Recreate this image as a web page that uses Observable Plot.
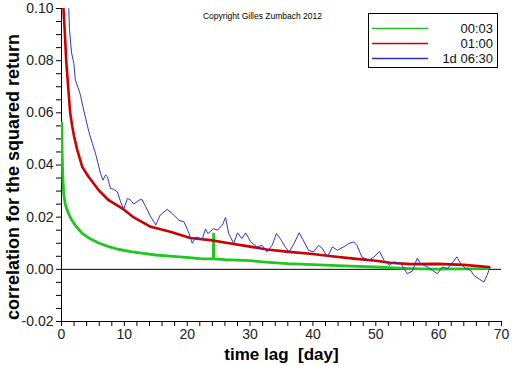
<!DOCTYPE html>
<html><head><meta charset="utf-8">
<script src="https://cdn.jsdelivr.net/npm/d3@7"></script>
<script src="https://cdn.jsdelivr.net/npm/@observablehq/plot@0.6"></script>
<style>
body{margin:0;background:#fff;}
#wrap{position:relative;width:512px;height:366px;font-family:"Liberation Sans",Arial,sans-serif;}
</style></head>
<body><div id="wrap"></div>
<script>
const seriesNames = ["00:03", "01:00", "1d 06:30"];
const seriesColors = ["#1ec81e", "#cc0000", "#3333cc"];
const legendColors = ["#20c020", "#cc0000", "#3030b8"];
const xTitle = "time lag  [day]";
const yTitle = "correlation for the squared return";
const copyright = "Copyright Gilles Zumbach 2012";

const greenX = [0.05,0.1,0.2,0.35,0.6,1.0,1.6,2.3,3.3,4.5,6,7.5,9,11,13,15,17.3,20.3,22.4,24.15,24.2,24.25,26,28,30,33,36,40,43,46,50,54.4,57,59.8,64,68];
const greenY = [0.056,0.045,0.036,0.029,0.025,0.022,0.019,0.0165,0.0138,0.0118,0.0100,0.0087,0.0077,0.0068,0.0061,0.0055,0.0051,0.0045,0.0040,0.0040,0.0135,0.0040,0.0037,0.0035,0.0033,0.0027,0.0022,0.0018,0.0015,0.0012,0.0009,0.0004,0.0002,0.0001,0.0002,0.0003];

const redX = [0.2,0.53,0.75,1.06,1.38,1.7,2.0,2.5,3.3,4.3,5.9,7.5,9.7,11.5,14.2,17.3,20.5,23.7,26.9,30,32.7,36.2,39.6,43,46.5,50,52.3,55.5,59.8,64,68];
const redY = [0.105,0.0907,0.080,0.070,0.060,0.055,0.051,0.0458,0.0393,0.0355,0.0304,0.0265,0.0233,0.0199,0.0163,0.0144,0.0120,0.0112,0.0099,0.0087,0.0076,0.0067,0.0060,0.0050,0.0041,0.0033,0.0025,0.0020,0.0021,0.0017,0.0009];

const blueX = [1.0,1.16,1.27,1.6,1.96,2.2,2.65,3.0,3.4,3.9,4.35,4.9,5.4,5.8,6.2,6.6,7.0,7.3,7.5,7.8,8.3,8.9,9.4,9.9,10.5,11.0,11.5,12.3,12.8,13.4,14.2,15.0,15.7,16.8,17.6,18.7,19.5,20.3,20.8,21.4,22.4,22.9,23.3,24.2,24.8,25.6,26.1,26.6,27.4,28.0,28.7,29.3,30.1,31.1,31.9,32.7,33.5,34.2,34.8,35.6,36.2,37.0,37.8,38.6,39.3,40.1,40.9,41.5,42.3,43.1,43.9,44.9,45.7,46.5,47.0,47.8,48.9,49.7,50.6,51.3,52.1,52.9,53.9,54.5,55.0,55.8,56.6,57.1,58.2,59.0,59.8,60.6,61.4,62.1,62.9,63.5,64.3,65.1,65.6,66.4,67.2,67.7,68.2];
const blueY = [0.108,0.100,0.092,0.083,0.079,0.0727,0.0695,0.067,0.0624,0.0573,0.0528,0.0483,0.0445,0.0407,0.0368,0.0342,0.0362,0.0355,0.0336,0.031,0.0307,0.0297,0.0259,0.0231,0.0272,0.0265,0.0250,0.0265,0.0268,0.024,0.0201,0.0170,0.0208,0.0230,0.0214,0.0188,0.0182,0.0137,0.0100,0.0124,0.0116,0.0155,0.0137,0.0156,0.0150,0.0170,0.0199,0.0137,0.0099,0.0140,0.0118,0.0140,0.0105,0.0086,0.0092,0.0067,0.0092,0.0137,0.0118,0.0086,0.0067,0.0099,0.0140,0.0105,0.0073,0.0067,0.0092,0.0080,0.0047,0.0086,0.0073,0.0086,0.0099,0.0105,0.0092,0.0047,0.0035,0.0047,0.0069,0.0035,0.0015,0.0028,0.0024,0.0003,-0.0017,-0.0007,0.0043,0.0022,0.0009,-0.0004,-0.0017,0.0009,0.0003,0.0022,0.0048,0.0022,0.0003,-0.0004,-0.0023,-0.0036,-0.0049,-0.0023,0.0009];

const xTicks = d3.range(0, 71, 2);
const yTicks = d3.range(-4, 21).map(i => i * 0.005);

const toRows = (xs, ys) => xs.map((x, i) => ({x, y: ys[i]}));
const green = toRows(greenX, greenY);
const red = toRows(redX, redY);
const blue = toRows(blueX, blueY);

const chart = Plot.plot({
  width: 512, height: 366,
  marginLeft: 61, marginRight: 11, marginTop: 8, marginBottom: 45,
  style: {fontFamily: "Liberation Sans, Arial, sans-serif", fontSize: "14px", color: "#111", background: "#fff"},
  x: {domain: [0, 70]},
  y: {domain: [-0.02, 0.10]},
  marks: [
    Plot.axisX({ticks: xTicks, tickSize: 5, tickPadding: 3, tickFormat: d => d % 10 === 0 ? String(d) : "", label: null, stroke: "#000", fill: "#222"}),
    Plot.axisY({ticks: yTicks, tickSize: 5, tickPadding: 3, tickFormat: d => Math.round(d * 1000) % 20 === 0 ? d.toFixed(2) : "", label: null, stroke: "#000", fill: "#222"}),
    Plot.ruleX([0], {stroke: "#000"}),
    Plot.ruleY([-0.02], {stroke: "#000"}),
    Plot.ruleY([0], {stroke: "#000"}),
    Plot.line(green, {x: "x", y: "y", stroke: seriesColors[0], strokeWidth: 2.8, clip: true}),
    Plot.line(red, {x: "x", y: "y", stroke: seriesColors[1], strokeWidth: 2.6, clip: true}),
    Plot.line(blue, {x: "x", y: "y", stroke: seriesColors[2], strokeWidth: 1, clip: true}),
    Plot.text([yTitle], {frameAnchor: "left", textAnchor: "middle", lineAnchor: "middle", rotate: -90, dx: -48, dy: 12, fontSize: 18, fontWeight: "bold", fill: "#000", letterSpacing: "1.5px"}),
    Plot.text([xTitle], {frameAnchor: "bottom", textAnchor: "middle", lineAnchor: "middle", dy: 33, fontSize: 17, fontWeight: "bold", fill: "#000", letterSpacing: "0.6px"}),
    Plot.text([copyright], {frameAnchor: "top", lineAnchor: "middle", dx: -19, dy: 8, fontSize: 8.5, fill: "#000"})
  ]
});
const wrap = document.getElementById("wrap");
wrap.appendChild(chart);

const ns = "http://www.w3.org/2000/svg";
const lg = document.createElementNS(ns, "svg");
lg.setAttribute("width", 131);
lg.setAttribute("height", 56);
const box = document.createElementNS(ns, "rect");
box.setAttribute("x", 0.5); box.setAttribute("y", 0.5);
box.setAttribute("width", 129); box.setAttribute("height", 54);
box.setAttribute("fill", "#fff"); box.setAttribute("stroke", "#000");
lg.appendChild(box);
seriesNames.forEach((name, i) => {
  const yy = 15.5 + i * 15;
  const ln = document.createElementNS(ns, "line");
  ln.setAttribute("x1", 4); ln.setAttribute("x2", 60);
  ln.setAttribute("y1", yy); ln.setAttribute("y2", yy);
  ln.setAttribute("stroke", legendColors[i]); ln.setAttribute("stroke-width", 1.5);
  lg.appendChild(ln);
  const tx = document.createElementNS(ns, "text");
  tx.setAttribute("x", 125); tx.setAttribute("y", yy);
  tx.setAttribute("text-anchor", "end"); tx.setAttribute("dominant-baseline", "central");
  tx.setAttribute("font-size", 13); tx.setAttribute("font-family", "Liberation Sans, Arial, sans-serif");
  tx.setAttribute("fill", "#111");
  tx.textContent = name;
  lg.appendChild(tx);
});
lg.style.position = "absolute";
lg.style.left = "368px"; lg.style.top = "13px";
wrap.appendChild(lg);
</script></body></html>
